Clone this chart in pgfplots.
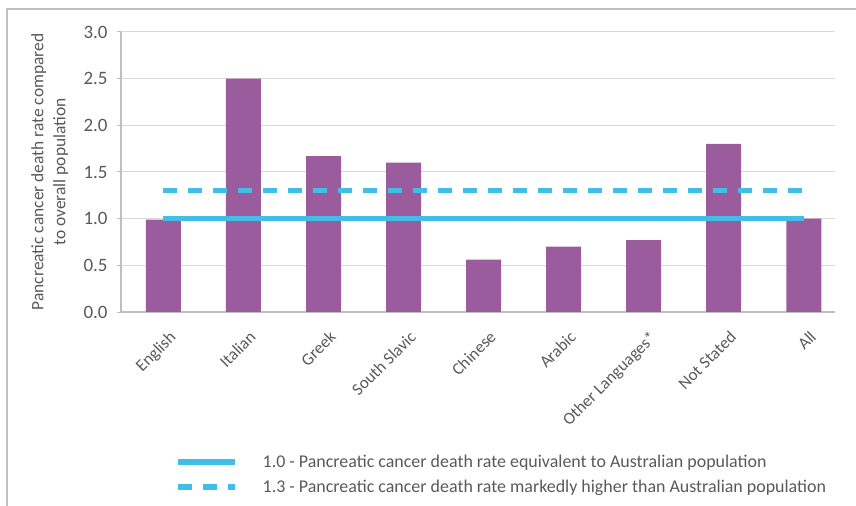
\documentclass[border=0pt]{standalone}
\usepackage{pgfplots}
\pgfplotsset{compat=1.18}
\usepackage{pgfplotstable}
\usepackage{fontspec}
\setmainfont{Carlito}

\definecolor{barpurple}{RGB}{155,92,158}
\definecolor{refblue}{RGB}{65,190,232}
\definecolor{txtgray}{RGB}{89,89,89}
\definecolor{gridgray}{RGB}{217,217,217}
\definecolor{axgray}{RGB}{191,191,191}

\pgfplotsset{
    longline/.style={legend image code/.code={\draw[##1] (0bp,0bp) -- (57bp,0bp);}},
}

% rate compared to overall population, by language spoken at home
\pgfplotstableread{
x rate
0 0.99
1 2.50
2 1.67
3 1.60
4 0.56
5 0.70
6 0.77
7 1.80
8 1.00
}\ratetable

\begin{document}
\begin{tikzpicture}
\useasboundingbox (0,0) rectangle (856bp,506bp);
\draw[axgray, line width=1.5bp] (7bp,0) -- (7bp,497bp) -- (856bp,497bp);
\begin{axis}[
    at={(121bp,194bp)}, anchor=south west,
    scale only axis,
    width=714bp, height=280bp,
    xmin=-0.53, xmax=8.39,
    ymin=0, ymax=3,
    ytick={0,0.5,...,3},
    xtick={0,...,8},
    xticklabels={English,Italian,Greek,South Slavic,Chinese,Arabic,Other Languages*,Not Stated,All},
    x tick label style={xshift=5bp, yshift=-9bp, rotate=45, anchor=north east,
        font=\fontsize{17}{19}\selectfont, text=txtgray},
    y tick label style={font=\fontsize{19}{21}\selectfont, text=txtgray, xshift=-6bp,
        /pgf/number format/.cd, fixed, fixed zerofill, precision=1},
    /pgf/number format/assume math mode=true,
    axis x line*=bottom, axis y line*=left,
    axis line style={axgray, line width=1.2bp},
    x axis line style={-}, y axis line style={-},
    ymajorgrids, grid style={gridgray, line width=1bp},
    major tick length=4bp,
    tick style={axgray, line width=1bp},
    xtick style={draw=none},
    ytick pos=left, tick align=outside,
    ylabel={Pancreatic cancer death rate compared\\to overall population},
    ylabel style={align=center, font=\fontsize{17.5}{22}\selectfont, text=txtgray,
        at={(axis description cs:-0.069,0.5)}, anchor=south},
    legend style={at={(0.0756,-0.507)}, anchor=north west, draw=none, fill=none,
        inner sep=0pt, row sep=9bp, font=\fontsize{18}{20}\selectfont,
        nodes={text=txtgray, inner sep=1bp},
        /tikz/every odd column/.append style={column sep=24bp}},
    legend cell align=left,
    longline,
]
\addplot[ybar, bar width=35bp, fill=barpurple, draw=none, forget plot] table[x=x, y=rate] {\ratetable};
\addplot[refblue, line width=5.5bp] coordinates {(0,1.0) (8,1.0)};
\addlegendentry{1.0 - Pancreatic cancer death rate equivalent to Australian population}
\addplot[refblue, line width=5.5bp, dash pattern=on 14bp off 11bp] coordinates {(0,1.3) (8,1.3)};
\addlegendentry{1.3 - Pancreatic cancer death rate markedly higher than Australian population}
\end{axis}
\end{tikzpicture}
\end{document}
